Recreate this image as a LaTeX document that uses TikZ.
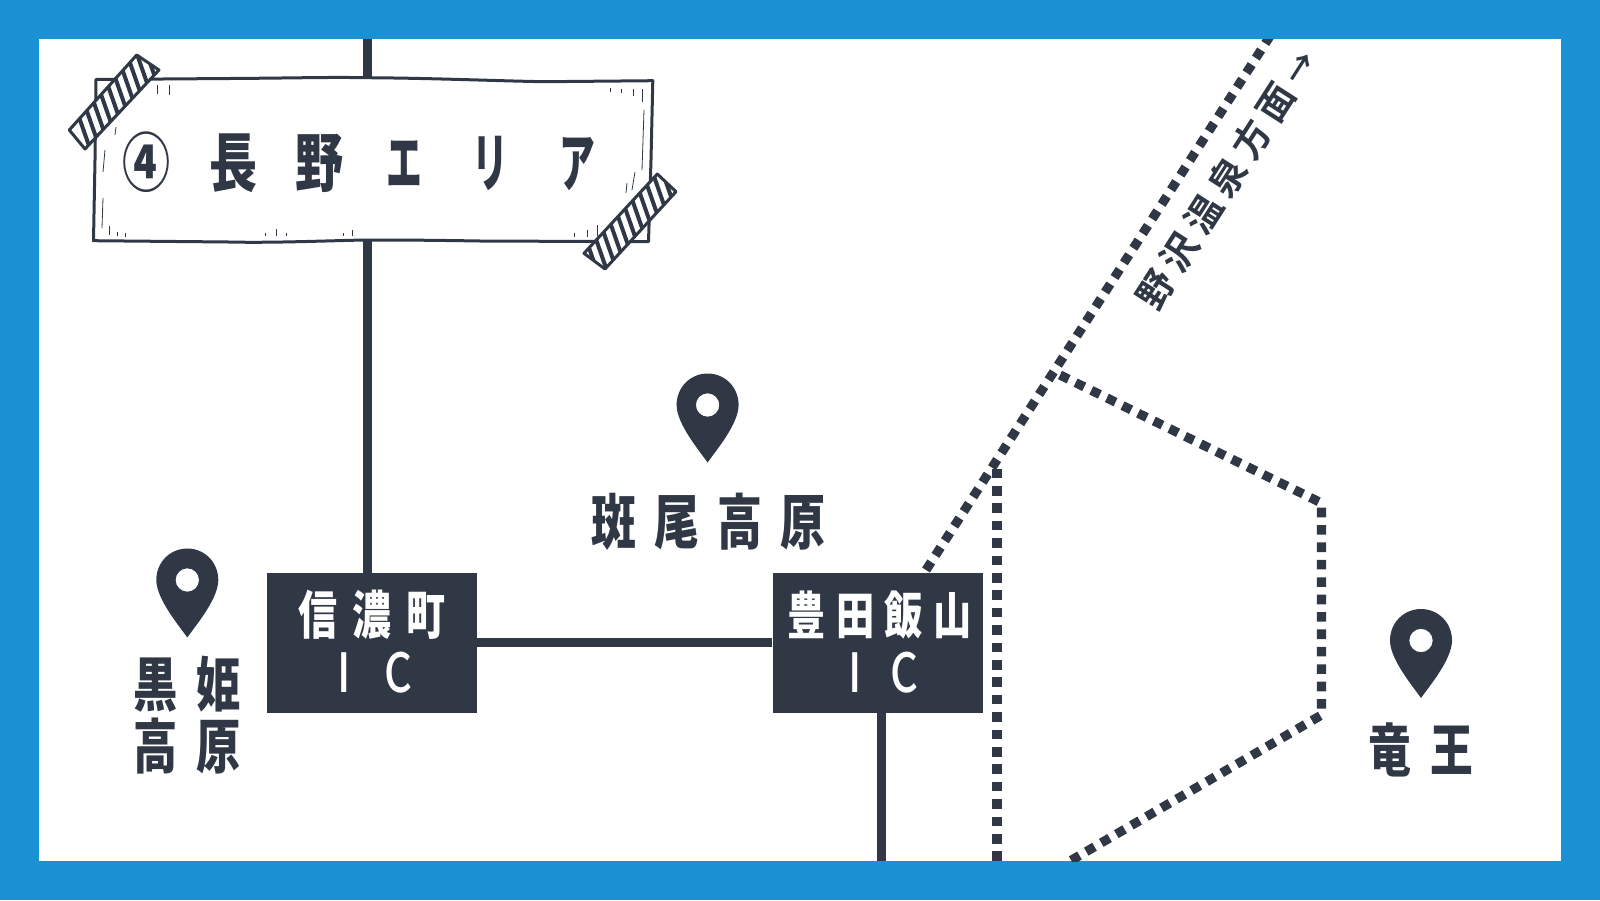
\documentclass[tikz,border=0pt]{standalone}
\usepackage{fontspec}
\newfontfamily\jpb{Noto Sans CJK JP Black}[FakeStretch=0.75]
\newfontfamily\jpk{Noto Sans CJK JP Black}[FakeStretch=0.56]
\newfontfamily\jpr{Noto Sans CJK JP Bold}
\newfontfamily\jpm{Noto Sans CJK JP Medium}[FakeStretch=0.8]
\definecolor{ink}{HTML}{303846}
\definecolor{frame}{HTML}{1A91D2}
\tikzset{
  x=0.5pt,y=-0.5pt,
  road/.style={draw=ink,line width=4.5pt},
  dots/.style={draw=ink,line width=4.6pt,dash pattern=on 4.8pt off 3.9pt},
  icbox/.style={fill=ink,draw=none,inner sep=0pt,minimum width=105pt,minimum height=70pt},
  jplabel/.style={text=ink,inner sep=0pt,align=center},
  iclabel/.style={text=white,inner sep=0pt},
  hand/.style={draw=ink,line width=1.5pt,line join=round,fill=white},
  tick/.style={draw=ink,line width=.4pt},
  hatch/.style={draw=ink,line width=2pt},
}
\newcommand{\spaced}[2]{{\addfontfeature{LetterSpace=#1}#2}}
\newcommand{\pinmark}[1]{%
  \begin{scope}[shift={(#1)}]
    \fill[ink,even odd rule] (0,44.5) .. controls (-8,33) and (-31,6) .. (-31,-13)
      .. controls (-31,-31) and (-17,-44.5) .. (0,-44.5)
      .. controls (17,-44.5) and (31,-31) .. (31,-13)
      .. controls (31,6) and (8,33) .. (0,44.5) -- cycle
      (0,-13) circle[radius=11.7];
  \end{scope}}
\begin{document}
\begin{tikzpicture}
\useasboundingbox (0,0) rectangle (1600,900);
\fill[frame] (0,0) rectangle (1600,900);
\fill[white] (39,39) rectangle (1561,861);
\begin{scope}
  \clip (39,39) rectangle (1561,861);
  \coordinate (topA) at (367.5,39);
  \coordinate (botB) at (881.5,861);
  \coordinate (d1) at (926,570);
  \coordinate (d2) at (1272,33);
  \coordinate (v1) at (997,461);
  \coordinate (v2) at (997,861);
  \coordinate (h1) at (1060,375);
  \coordinate (h2) at (1321.5,503);
  \coordinate (h3) at (1321.5,715);
  \coordinate (h4) at (1070,861);
  \node[icbox] (ic1) at (372,643) {};
  \node[icbox] (ic2) at (877.5,643) {};
  \draw[road] (topA) -- (topA |- ic1.north);
  \draw[road] (ic1.east |- 0,642) -- (ic2.west |- 0,642);
  \draw[road] (botB) -- (botB |- ic2.south);
  \draw[dots] (d1) -- (d2);
  \draw[dots] (v2) -- (v1);
  \draw[dots] (h1) -- (h2) -- (h3) -- (h4);
\end{scope}
% title sign
\path[hand] (96,79.5) -- (230,78.5) .. controls (300,78) and (330,77) .. (364,77.7)
  .. controls (430,78) and (500,81) .. (545,81.7) -- (652.8,80.7)
  -- (651,160) -- (648.5,241.7) -- (480,241) .. controls (420,240) and (390,240) .. (364,240)
  .. controls (320,241) and (270,243) .. (229,242) -- (93.5,240.7) -- (95,160) -- cycle;
\draw[tick] (157,85) -- (157,94) (169,85) -- (169,95);
\draw[tick] (610,88) -- (610,92) (621,89) -- (621,93) (633,89) -- (633,96) (642,89) -- (642,102);
\draw[tick] (644,110) -- (642,170) (635,172) -- (632,190) (627,183) -- (626,193);
\draw[tick] (116,127) -- (115,135) (105,150) -- (103,172) (103,198) -- (102,228);
\draw[tick] (109,226) -- (109,235) (117,232) -- (117,236) (125,233) -- (125,237);
\draw[tick] (265,233) -- (265,236) (276,229) -- (276,236) (286,233) -- (286,236);
\draw[tick] (343,233) -- (343,236) (352,230) -- (352,236);
\draw[tick] (574,233) -- (574,237) (587,230) -- (587,237) (597,225) -- (597,236);
% tapes
\fill[white] (136.7,55) -- (159,70) -- (85,149) -- (69.3,130) -- cycle;
\begin{scope}
  \clip (136.7,55) -- (159,70) -- (85,149) -- (69.3,130) -- cycle;
  \foreach \t in {0,...,11}{
    \draw[hatch] ({52+10*\t},40) -- ({52+10*\t+42},160);
  }
\end{scope}
\draw[ink,line width=1.5pt,line join=round] (136.7,55) -- (159,70) -- (85,149) -- (69.3,130) -- cycle;
\fill[white] (657.3,174) -- (676,191.7) -- (605,269) -- (584,253.3) -- cycle;
\begin{scope}
  \clip (657.3,174) -- (676,191.7) -- (605,269) -- (584,253.3) -- cycle;
  \foreach \t in {0,...,12}{
    \draw[hatch] ({560+10*\t},165) -- ({560+10*\t+42},285);
  }
\end{scope}
\draw[ink,line width=1.5pt,line join=round] (657.3,174) -- (676,191.7) -- (605,269) -- (584,253.3) -- cycle;
% title
\node[jplabel,font=\jpb\fontsize{32pt}{34pt}\selectfont] (title) at (359,162)
  {\spaced{60}{④長野}\hspace{21.4pt}{\jpk\fontsize{32pt}{34pt}\selectfont\spaced{79}{エリア}}};
% labels
\node[jplabel,font=\jpb\fontsize{29.5pt}{31pt}\selectfont] (kuro) at (187,715)
  {\spaced{32}{黒姫}\\\spaced{32}{高原}};
\node[jplabel,font=\jpb\fontsize{30pt}{31pt}\selectfont] (mada) at (708,521.5)
  {\spaced{30}{斑尾高原}};
\node[jplabel,font=\jpb\fontsize{28.5pt}{31pt}\selectfont] (ryuo) at (1421,750)
  {\spaced{35}{竜王}};
\node[iclabel,font=\jpb\fontsize{26pt}{30pt}\selectfont] (ic1a) at (372,615) {\spaced{29}{信濃町}};
\node[iclabel,font=\jpb\fontsize{25.5pt}{30pt}\selectfont] (ic2a) at (879.5,615) {\spaced{20}{豊田飯山}};
\node[iclabel,font=\jpm\fontsize{27pt}{30pt}\selectfont] (ic1b) at (375,673) {\spaced{62}{IC}};
\node[iclabel,font=\jpm\fontsize{27pt}{30pt}\selectfont] (ic2b) at (883.5,673) {\spaced{53}{IC}};
\node[text=ink,inner sep=0pt,rotate=57.3,font=\jpr\fontsize{18.5pt}{24pt}\selectfont] (nozawa) at (1226,179)
  {\spaced{20}{野沢温泉方面}\hspace{4pt}{\fontsize{16pt}{24pt}\selectfont →}};
% pins
\pinmark{187.3,593}
\pinmark{707.6,418}
\pinmark{1421,653.5}
\end{tikzpicture}
\end{document}
